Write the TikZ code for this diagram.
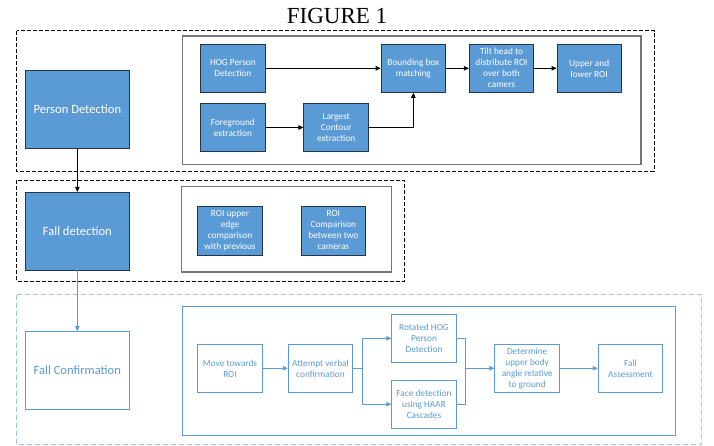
\documentclass[tikz,border=0pt]{standalone}
\usepackage{fontspec}
\setmainfont{Carlito}
\newfontfamily\titlefont{Liberation Serif}
\usetikzlibrary{arrows.meta}
\definecolor{boxblue}{HTML}{5B9BD5}
\definecolor{boxedge}{HTML}{24354A}
\definecolor{framegray}{HTML}{767676}
\definecolor{lightdash}{HTML}{9DC3E6}
\tikzset{
  smallbox/.style={draw=boxedge, line width=0.9pt, fill=boxblue, text=white,
    minimum width=64.5pt, minimum height=48pt, align=center, inner sep=1pt,
    font=\fontsize{9.3}{11}\selectfont},
  bigbox/.style={draw=boxedge, line width=0.9pt, fill=boxblue, text=white,
    minimum width=103.3pt, minimum height=77.6pt, align=center,
    font=\fontsize{12.6}{15}\selectfont},
  lightsmall/.style={draw=boxblue, line width=0.9pt, fill=white, text=boxblue,
    minimum width=64.5pt, minimum height=48pt, align=center, inner sep=1pt,
    font=\fontsize{9.3}{11}\selectfont},
  lightbig/.style={draw=boxblue, line width=0.9pt, fill=white, text=boxblue,
    minimum width=103.3pt, minimum height=77.6pt, align=center,
    font=\fontsize{12.6}{15}\selectfont},
  blackframe/.style={draw=black, line width=0.8pt, dash pattern=on 4pt off 2pt},
  grayframe/.style={draw=framegray, line width=1.4pt},
  blueframe/.style={draw=lightdash, line width=0.8pt, dash pattern=on 5pt off 3pt},
  innerblue/.style={draw=boxblue, line width=1pt},
  blackarrow/.style={draw=black, line width=0.8pt, -{Triangle[length=5pt,width=4.5pt]}},
  bluearrow/.style={draw=boxblue, line width=0.9pt, -{Triangle[length=5pt,width=4.5pt]}},
  blueline/.style={draw=boxblue, line width=0.9pt},
  blackline/.style={draw=black, line width=0.8pt}
}
\begin{document}
\begin{tikzpicture}[x=1pt, y=-1pt]
\useasboundingbox[fill=white] (0,0) rectangle (714,445);

% title
\node[anchor=base, font=\titlefont\fontsize{23}{27}\selectfont, inner sep=0pt] (title) at (337,23.3) {FIGURE 1};

% frames
\draw[blackframe] (16.7,30.7) rectangle (654.3,171);
\draw[grayframe] (182.3,36) rectangle (641,164.3);
\draw[blackframe] (16.7,180) rectangle (404.3,281);
\draw[grayframe] (181.7,186.7) rectangle (391.7,272);
\draw[blueframe] (16.7,294.5) rectangle (701.7,444);
\draw[innerblue] (182.3,306.7) rectangle (675.7,435.7);

% main boxes
\node[bigbox] (pd) at (77.35,109.5) {Person Detection};
\node[bigbox] (fd) at (77.35,231.15) {Fall detection};
\node[lightbig] (fc) at (77.35,370.35) {Fall Confirmation};

% top row
\node[smallbox] (hog) at (232.85,68.3) {HOG Person\\Detection};
\node[smallbox] (bbm) at (413.35,68.3) {Bounding box\\matching};
\node[smallbox] (tilt) at (501.5,68.3) {Tilt head to\\distribute ROI\\over both\\camers};
\node[smallbox] (upper) at (589.2,68.3) {Upper and\\lower ROI};
\node[smallbox] (fg) at (232.85,127.5) {Foreground\\extraction};
\node[smallbox] (lc) at (336.15,127.5) {Largest\\Contour\\extraction};

% middle row
\node[smallbox, minimum height=49pt] (roi1) at (230,230.5) {ROI upper\\edge\\comparison\\with previous};
\node[smallbox, minimum height=49pt] (roi2) at (333.35,230.5) {ROI\\Comparison\\between two\\cameras};

% bottom row
\node[lightsmall] (move) at (230,368.3) {Move towards\\ROI};
\node[lightsmall] (att) at (320.5,368.3) {Attempt verbal\\confirmation};
\node[lightsmall] (rhog) at (424,338.3) {Rotated HOG\\Person\\Detection};
\node[lightsmall] (face) at (424,404.2) {Face detection\\using HAAR\\Cascades};
\node[lightsmall] (det) at (527.15,368.3) {Determine\\upper body\\angle relative\\to ground};
\node[lightsmall] (fa) at (630.5,368.3) {Fall\\Assessment};

% connectors top
\draw[blackarrow] (hog.east) -- (bbm.west);
\draw[blackarrow] (fg.east) -- (lc.west);
\draw[blackarrow] (lc.east) -| (bbm.south);
\draw[blackarrow] (bbm.east) -- (tilt.west);
\draw[blackarrow] (tilt.east) -- (upper.west);

% vertical connectors
\draw[blackarrow] (pd.south) -- (fd.north);
\draw[bluearrow] (fd.south) -- (fc.north);

% bottom connectors
\coordinate (split) at (362.3,368.3);
\coordinate (merge) at (465.7,368.3);
\draw[bluearrow] (move.east) -- (att.west);
\draw[blueline] (att.east) -- (split);
\draw[bluearrow] (split) |- (rhog.west);
\draw[bluearrow] (split) |- (face.west);
\draw[blueline] (rhog.east) -| (merge);
\draw[blueline] (face.east) -| (merge);
\draw[bluearrow] (merge) -- (det.west);
\draw[bluearrow] (det.east) -- (fa.west);
\end{tikzpicture}
\end{document}
